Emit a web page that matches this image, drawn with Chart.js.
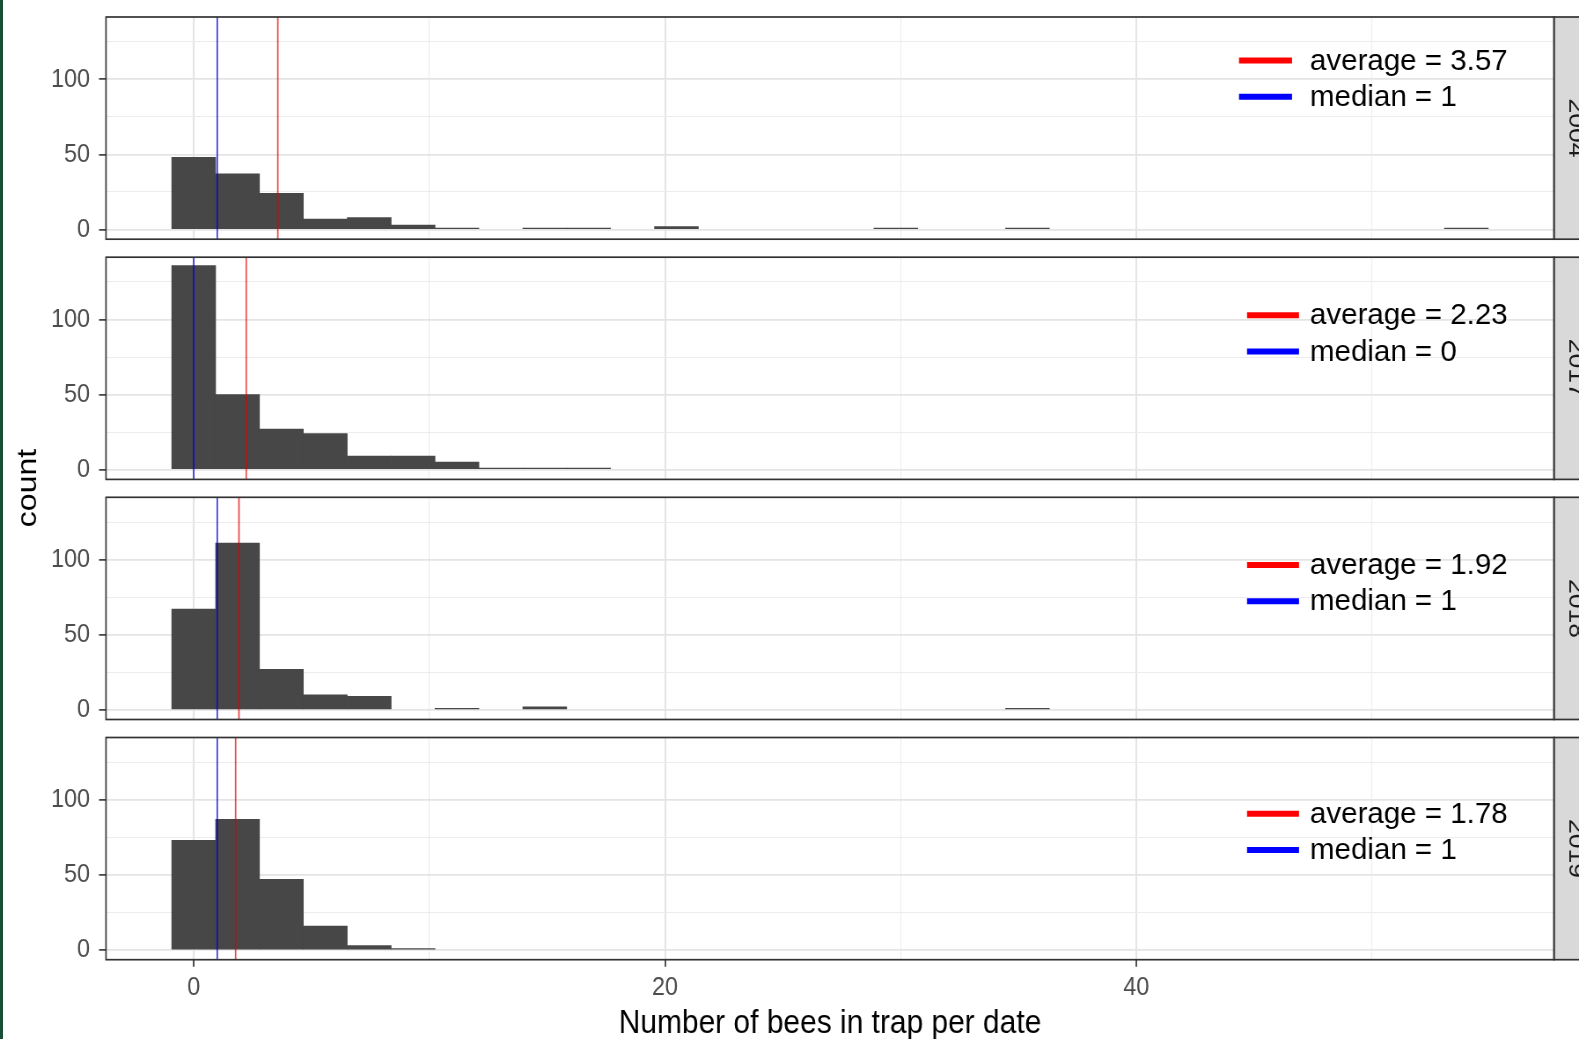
<!DOCTYPE html>
<html>
<head>
<meta charset="utf-8">
<script src="https://cdn.jsdelivr.net/npm/chart.js@4.4.1/dist/chart.umd.min.js"></script>
<style>
html,body{margin:0;padding:0;background:#fff;}
#wrap{position:relative;width:1579px;height:1039px;overflow:hidden;background:#fff;}
#wrap canvas{position:absolute;left:0;top:0;width:1579px;height:1039px;}
#edge{position:absolute;left:0;top:0;width:3px;height:1039px;background:#184d36;z-index:10;}
</style>
</head>
<body>
<div id="wrap">
<canvas id="c0" width="1794" height="1039" style="width:1579px;height:1039px"></canvas>
<canvas id="c1" width="1794" height="1039" style="width:1579px;height:1039px"></canvas>
<canvas id="c2" width="1794" height="1039" style="width:1579px;height:1039px"></canvas>
<canvas id="c3" width="1794" height="1039" style="width:1579px;height:1039px"></canvas>
<div id="edge"></div>
</div>
<script>
// ---------- data ----------
const years = ['2004', '2017', '2018', '2019'];
const binCenters = [0.000, 1.862, 3.724, 5.586, 7.448, 9.310, 11.172, 13.034, 14.897, 16.759,
                    18.621, 20.483, 22.345, 24.207, 26.069, 27.931, 29.793, 31.655, 33.517, 35.379,
                    37.241, 39.103, 40.966, 42.828, 44.690, 46.552, 48.414, 50.276, 52.138, 54.000];
const counts2004 = [48, 37, 24, 7, 8, 3, 1, 0, 1, 1, 0, 2, 0, 0, 0, 0, 1, 0, 0, 1, 0, 0, 0, 0, 0, 0, 0, 0, 0, 1];
const counts2017 = [136, 50, 27, 24, 9, 9, 5, 1, 1, 1, 0, 0, 0, 0, 0, 0, 0, 0, 0, 0, 0, 0, 0, 0, 0, 0, 0, 0, 0, 0];
const counts2018 = [67, 111, 27, 10, 9, 0, 1, 0, 2, 0, 0, 0, 0, 0, 0, 0, 0, 0, 0, 1, 0, 0, 0, 0, 0, 0, 0, 0, 0, 0];
const counts2019 = [73, 87, 47, 16, 3, 1, 0, 0, 0, 0, 0, 0, 0, 0, 0, 0, 0, 0, 0, 0, 0, 0, 0, 0, 0, 0, 0, 0, 0, 0];
const averages = [3.57, 2.23, 1.92, 1.78];
const medians = [1, 0, 1, 1];
const xTicks = [0, 10, 20, 30, 40, 50];
const xLabelTicks = [0, 20, 40];
const yTicks = [0, 25, 50, 75, 100, 125];
const yLabelTicks = [0, 50, 100];
const xTitle = 'Number of bees in trap per date';
const yTitle = 'count';

const allCounts = [counts2004, counts2017, counts2018, counts2019];

// ---------- layout / style ----------
// The picture is horizontally condensed: the canvas is drawn wider and squeezed by CSS.
const W_C = 1794, H = 1039;
const S = 1579 / W_C;            // horizontal squeeze factor
const cx = px => px / S;          // screen x -> canvas x
const PLOT_L = cx(106), PLOT_R = cx(1554);
const panelTops = [17, 257.2, 497.3, 737.5];
const PANEL_H = 222.2;
const X_MIN = -3.72, X_MAX = 57.72, Y_MIN = -6.47, Y_MAX = 141.5;
const legendY = [[60.4, 96.7], [315.2, 351.4], [565, 601.2], [813.7, 850]];
const swatchX = [[1239, 1292], [1247, 1299], [1247, 1299], [1247, 1299]];
const legendTextX = 1310;
const FONT = "'Liberation Sans', Arial, sans-serif";

function panelPlugin(i) {
  return {
    id: 'panel' + i,
    afterDraw(chart) {
      const ctx = chart.ctx, a = chart.chartArea;
      ctx.save();
      // facet strip
      ctx.fillStyle = '#d9d9d9';
      ctx.fillRect(a.right, a.top, W_C - a.right + 10, a.bottom - a.top);
      ctx.strokeStyle = '#333333';
      ctx.lineWidth = 1.7;
      ctx.strokeRect(a.right, a.top, W_C - a.right + 10, a.bottom - a.top);
      ctx.save();
      ctx.translate(cx(1576), (a.top + a.bottom) / 2);
      ctx.rotate(Math.PI / 2);
      ctx.font = '26.5px ' + FONT;
      ctx.fillStyle = '#1a1a1a';
      ctx.textAlign = 'center';
      ctx.textBaseline = 'middle';
      ctx.fillText(years[i], 0, 0);
      ctx.restore();
      // panel border
      ctx.strokeStyle = '#333333';
      ctx.lineWidth = 1.7;
      ctx.strokeRect(a.left, a.top, a.right - a.left, a.bottom - a.top);
      // legend (not condensed)
      const labels = ['average = ' + averages[i].toFixed(2), 'median = ' + medians[i]];
      const cols = ['#ff0000', '#0000ff'];
      for (let j = 0; j < 2; j++) {
        const y = legendY[i][j];
        ctx.strokeStyle = cols[j];
        ctx.lineWidth = 6;
        ctx.lineCap = 'butt';
        ctx.beginPath();
        ctx.moveTo(cx(swatchX[i][0]), y);
        ctx.lineTo(cx(swatchX[i][1]), y);
        ctx.stroke();
        ctx.save();
        ctx.translate(cx(legendTextX), y + 1);
        ctx.scale(1 / S, 1);
        ctx.font = '29.5px ' + FONT;
        ctx.fillStyle = '#000000';
        ctx.textAlign = 'left';
        ctx.textBaseline = 'middle';
        ctx.fillText(labels[j], 0, 0);
        ctx.restore();
      }
      // shared y title
      if (i === 0) {
        ctx.save();
        ctx.translate(cx(28), 488);
        ctx.rotate(-Math.PI / 2);
        ctx.font = '32px ' + FONT;
        ctx.fillStyle = '#000000';
        ctx.textAlign = 'center';
        ctx.textBaseline = 'middle';
        ctx.fillText(yTitle, 0, 0);
        ctx.restore();
      }
      ctx.restore();
    }
  };
}

function makeChart(i) {
  const counts = allCounts[i];
  const isLast = i === 3;
  const top = panelTops[i], bottom = top + PANEL_H;
  const xAxisH = isLast ? (H - bottom) : 0;
  new Chart(document.getElementById('c' + i), {
    type: 'bar',
    data: {
      datasets: [
        {
          type: 'line', label: 'average',
          data: [{x: averages[i], y: Y_MIN}, {x: averages[i], y: Y_MAX}],
          borderColor: 'rgba(225,0,0,0.72)', borderWidth: cx(1.5), pointRadius: 0, order: 1
        },
        {
          type: 'line', label: 'median',
          data: [{x: medians[i], y: Y_MIN}, {x: medians[i], y: Y_MAX}],
          borderColor: 'rgba(0,0,215,0.78)', borderWidth: cx(1.5), pointRadius: 0, order: 2
        },
        {
          type: 'bar', label: 'count',
          data: binCenters.map((x, k) => ({x: x, y: counts[k] === 0 ? null : counts[k]})),
          backgroundColor: '#474747', borderWidth: 0,
          barPercentage: 1, categoryPercentage: 1, order: 3
        }
      ]
    },
    options: {
      responsive: false, animation: false, devicePixelRatio: 1,
      layout: {padding: {left: 0, right: W_C - PLOT_R, top: top, bottom: H - bottom - xAxisH}},
      plugins: {legend: {display: false}, tooltip: {enabled: false}},
      scales: {
        x: {
          type: 'linear', min: X_MIN, max: X_MAX, offset: false,
          afterBuildTicks: s => { s.ticks = xTicks.map(v => ({value: v})); },
          afterFit: s => { s.height = xAxisH; s.paddingLeft = 0; s.paddingRight = 0; },
          border: {display: false},
          grid: {
            offset: false,
            color: c => (c.tick && c.tick.value % 20 === 0) ? '#e4e4e4' : '#ececec',
            lineWidth: c => (c.tick && c.tick.value % 20 === 0) ? cx(1.8) : cx(1.0),
            drawTicks: isLast, tickLength: 7, tickWidth: cx(1.5),
            tickColor: c => (c.tick && c.tick.value % 20 === 0) ? '#333333' : 'rgba(0,0,0,0)'
          },
          ticks: {
            display: isLast, autoSkip: false, maxRotation: 0, padding: 5,
            callback: v => xLabelTicks.includes(v) ? String(v) : '',
            font: {family: FONT, size: 26.5}, color: '#4d4d4d'
          },
          title: {
            display: isLast, text: xTitle, padding: 0,
            font: {family: FONT, size: 34, lineHeight: 0.9}, color: '#000000'
          }
        },
        y: {
          type: 'linear', min: Y_MIN, max: Y_MAX,
          afterBuildTicks: s => { s.ticks = yTicks.map(v => ({value: v})); },
          afterFit: s => { s.width = PLOT_L; s.paddingTop = 0; s.paddingBottom = 0; },
          border: {display: false},
          grid: {
            color: c => (c.tick && c.tick.value % 50 === 0) ? '#e4e4e4' : '#ececec',
            lineWidth: c => (c.tick && c.tick.value % 50 === 0) ? 1.8 : 1.0,
            drawTicks: true, tickLength: cx(7), tickWidth: 1.6,
            tickColor: c => (c.tick && c.tick.value % 50 === 0) ? '#333333' : 'rgba(0,0,0,0)'
          },
          ticks: {
            autoSkip: false, padding: cx(16) - cx(7),
            callback: v => yLabelTicks.includes(v) ? String(v) : '',
            font: {family: FONT, size: 26.5}, color: '#4d4d4d'
          }
        }
      }
    },
    plugins: [panelPlugin(i)]
  });
}

for (let i = 0; i < 4; i++) makeChart(i);
</script>
</body>
</html>
